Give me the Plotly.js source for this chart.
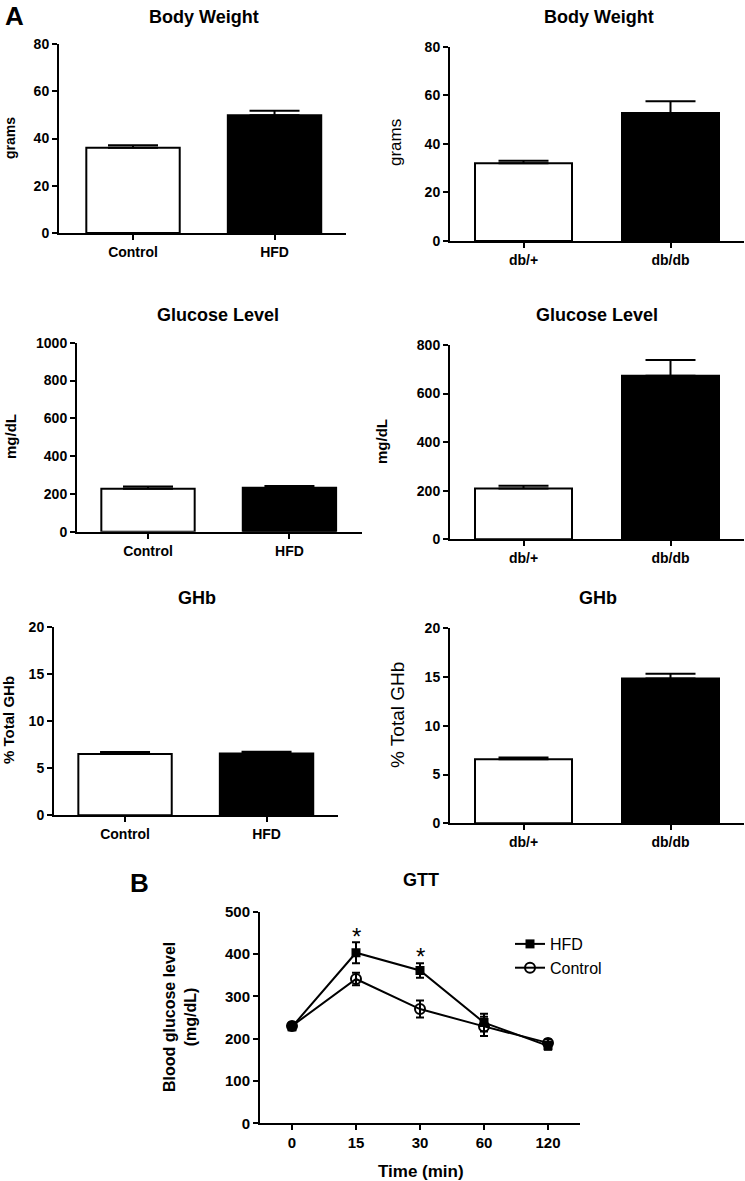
<!DOCTYPE html>
<html>
<head>
<meta charset="utf-8">
<script src="https://cdn.plot.ly/plotly-3.0.1.min.js"></script>
<style>html,body{margin:0;padding:0;background:#fff;} #chart{width:745px;height:1181px;}</style>
</head>
<body>
<div id="chart"></div>
<script>
// ---------- data ----------
const hfdGroups = ['Control', 'HFD'];
const dbGroups = ['db/+', 'db/db'];

const bodyWeightHFD = [36.1, 49.8];
const bodyWeightHFDErr = [1.0, 1.9];
const bodyWeightDB = [32.0, 52.7];
const bodyWeightDBErr = [1.0, 4.8];

const glucoseHFD = [227, 233];
const glucoseHFDErr = [12, 9];
const glucoseDB = [209, 673];
const glucoseDBErr = [11, 65];

const ghbHFD = [6.5, 6.55];
const ghbHFDErr = [0.2, 0.2];
const ghbDB = [6.56, 14.85];
const ghbDBErr = [0.18, 0.5];

const gttTimes = ['0', '15', '30', '60', '120'];
const gttHFD = [228, 403, 361, 238, 183];
const gttHFDErr = [8, 25, 17, 21, 9];
const gttControl = [230, 341, 270, 229, 190];
const gttControlErr = [8, 15, 20, 23, 8];
const gttSignificant = ['15', '30'];
const gttStarY = [442, 393];

// ---------- helpers ----------
const W = 745, H = 1181;
const FONT = 'Liberation Sans, Arial, sans-serif';
const px = v => v / W;
const py = v => 1 - v / H;

function barTrace(cats, vals, errs, xa, ya, width) {
  return {
    type: 'bar', x: cats, y: vals, xaxis: xa, yaxis: ya, width: width,
    marker: {color: ['#ffffff', '#000000'], line: {color: '#000000', width: 2}},
    error_y: {type: 'data', array: errs, arrayminus: [0, 0], symmetric: false,
              color: '#000000', thickness: 2, width: 25},
    showlegend: false, hoverinfo: 'x+y'
  };
}

const traces = [
  barTrace(hfdGroups, bodyWeightHFD, bodyWeightHFDErr, 'x', 'y', 0.66),
  barTrace(dbGroups, bodyWeightDB, bodyWeightDBErr, 'x2', 'y2', 0.66),
  barTrace(hfdGroups, glucoseHFD, glucoseHFDErr, 'x3', 'y3', 0.66),
  barTrace(dbGroups, glucoseDB, glucoseDBErr, 'x4', 'y4', 0.66),
  barTrace(hfdGroups, ghbHFD, ghbHFDErr, 'x5', 'y5', 0.66),
  barTrace(dbGroups, ghbDB, ghbDBErr, 'x6', 'y6', 0.66),
  {
    type: 'scatter', mode: 'lines+markers', name: 'HFD', x: gttTimes, y: gttHFD,
    xaxis: 'x7', yaxis: 'y7',
    line: {color: '#000', width: 2},
    marker: {symbol: 'square', size: 9, color: '#000'},
    error_y: {type: 'data', array: gttHFDErr, color: '#000', thickness: 2, width: 4}
  },
  {
    type: 'scatter', mode: 'lines+markers', name: 'Control', x: gttTimes, y: gttControl,
    xaxis: 'x7', yaxis: 'y7',
    line: {color: '#000', width: 2},
    marker: {symbol: 'circle-open', size: 10, color: '#000', line: {width: 2, color: '#000'}},
    error_y: {type: 'data', array: gttControlErr, color: '#000', thickness: 2, width: 4}
  }
];

function xAxis(x0, x1, range, anchor, fs) {
  return {
    domain: [px(x0), px(x1)], anchor: anchor, type: 'category', range: range,
    showline: true, linecolor: '#000', linewidth: 2, mirror: false,
    ticks: 'outside', ticklen: 5, tickwidth: 2, tickcolor: '#000',
    showgrid: false, zeroline: false, fixedrange: true,
    tickfont: {family: FONT, size: fs || 14, color: '#000', weight: 'bold'}
  };
}
function yAxis(top, bottom, range, dtick, anchor, fs) {
  return {
    domain: [py(bottom), py(top)], anchor: anchor, range: range, dtick: dtick, tick0: 0,
    showline: true, linecolor: '#000', linewidth: 2,
    ticks: 'outside', ticklen: 5, tickwidth: 2, tickcolor: '#000',
    showgrid: false, zeroline: false, fixedrange: true,
    tickfont: {family: FONT, size: fs || 14, color: '#000', weight: 'bold'}
  };
}

const layout = {
  width: W, height: H, margin: {l: 0, r: 0, t: 0, b: 0},
  paper_bgcolor: '#fff', plot_bgcolor: '#fff',
  font: {family: FONT, color: '#000'},
  showlegend: true,
  legend: {x: px(510), y: py(927), xanchor: 'left', yanchor: 'top',
           font: {family: FONT, size: 16, color: '#000'}, bgcolor: 'rgba(0,0,0,0)',
           tracegroupgap: 0, itemwidth: 30},
  bargap: 0,
  xaxis: xAxis(59, 346, [-0.523, 1.505], 'y'),
  yaxis: yAxis(44, 233, [0, 80], 20, 'x'),
  xaxis2: xAxis(450, 744, [-0.5, 1.5], 'y2'),
  yaxis2: yAxis(46.7, 241, [0, 80], 20, 'x2'),
  xaxis3: xAxis(77, 362, [-0.502, 1.513], 'y3'),
  yaxis3: yAxis(342.7, 531.7, [0, 1000], 200, 'x3'),
  xaxis4: xAxis(450, 744, [-0.5, 1.5], 'y4'),
  yaxis4: yAxis(345, 539.3, [0, 800], 200, 'x4'),
  xaxis5: xAxis(54, 338, [-0.502, 1.505], 'y5'),
  yaxis5: yAxis(626.7, 815.3, [0, 20], 5, 'x5'),
  xaxis6: xAxis(450, 744, [-0.5, 1.5], 'y6'),
  yaxis6: yAxis(628.3, 823.3, [0, 20], 5, 'x6'),
  xaxis7: xAxis(260, 580, [-0.5, 4.5], 'y7', 15),
  yaxis7: yAxis(911.7, 1123.3, [0, 500], 100, 'x7', 15),
  annotations: []
};

function ann(text, x, y, size, bold, angle) {
  layout.annotations.push({
    text: text, xref: 'paper', yref: 'paper', x: px(x), y: py(y),
    xanchor: 'center', yanchor: 'middle', showarrow: false, textangle: angle || 0,
    font: {family: FONT, size: size, color: '#000', weight: bold ? 'bold' : 'normal'}
  });
}

// panel letters
ann('A', 15, 16, 26, true);
ann('B', 139, 883, 26, true);
// chart titles
ann('Body Weight', 204, 17, 18, true);
ann('Body Weight', 599, 17, 18, true);
ann('Glucose Level', 218, 315, 18, true);
ann('Glucose Level', 597, 315, 18, true);
ann('GHb', 197, 598, 18, true);
ann('GHb', 598, 598, 18, true);
ann('GTT', 421, 880, 18, true);
// axis titles
ann('grams', 10, 138, 14, true, -90);
ann('grams', 395, 143, 17, false, -90);
ann('mg/dL', 10, 437, 15, true, -90);
ann('mg/dL', 381, 442, 15, true, -90);
ann('% Total GHb', 8, 720, 15, true, -90);
ann('% Total GHb', 397, 715, 19, false, -90);
ann('Blood glucose level<br>(mg/dL)', 180, 1017, 16, true, -90);
ann('Time (min)', 421, 1171, 17, true);

// significance markers (category index on the GTT axis)
gttSignificant.forEach((t, i) => {
  layout.annotations.push({
    text: '*', xref: 'x7', yref: 'y7', x: gttTimes.indexOf(t), y: gttStarY[i],
    xanchor: 'center', yanchor: 'middle', showarrow: false,
    font: {family: FONT, size: 24, color: '#000'}
  });
});

Plotly.newPlot('chart', traces, layout, {staticPlot: true, displayModeBar: false});
</script>
</body>
</html>
